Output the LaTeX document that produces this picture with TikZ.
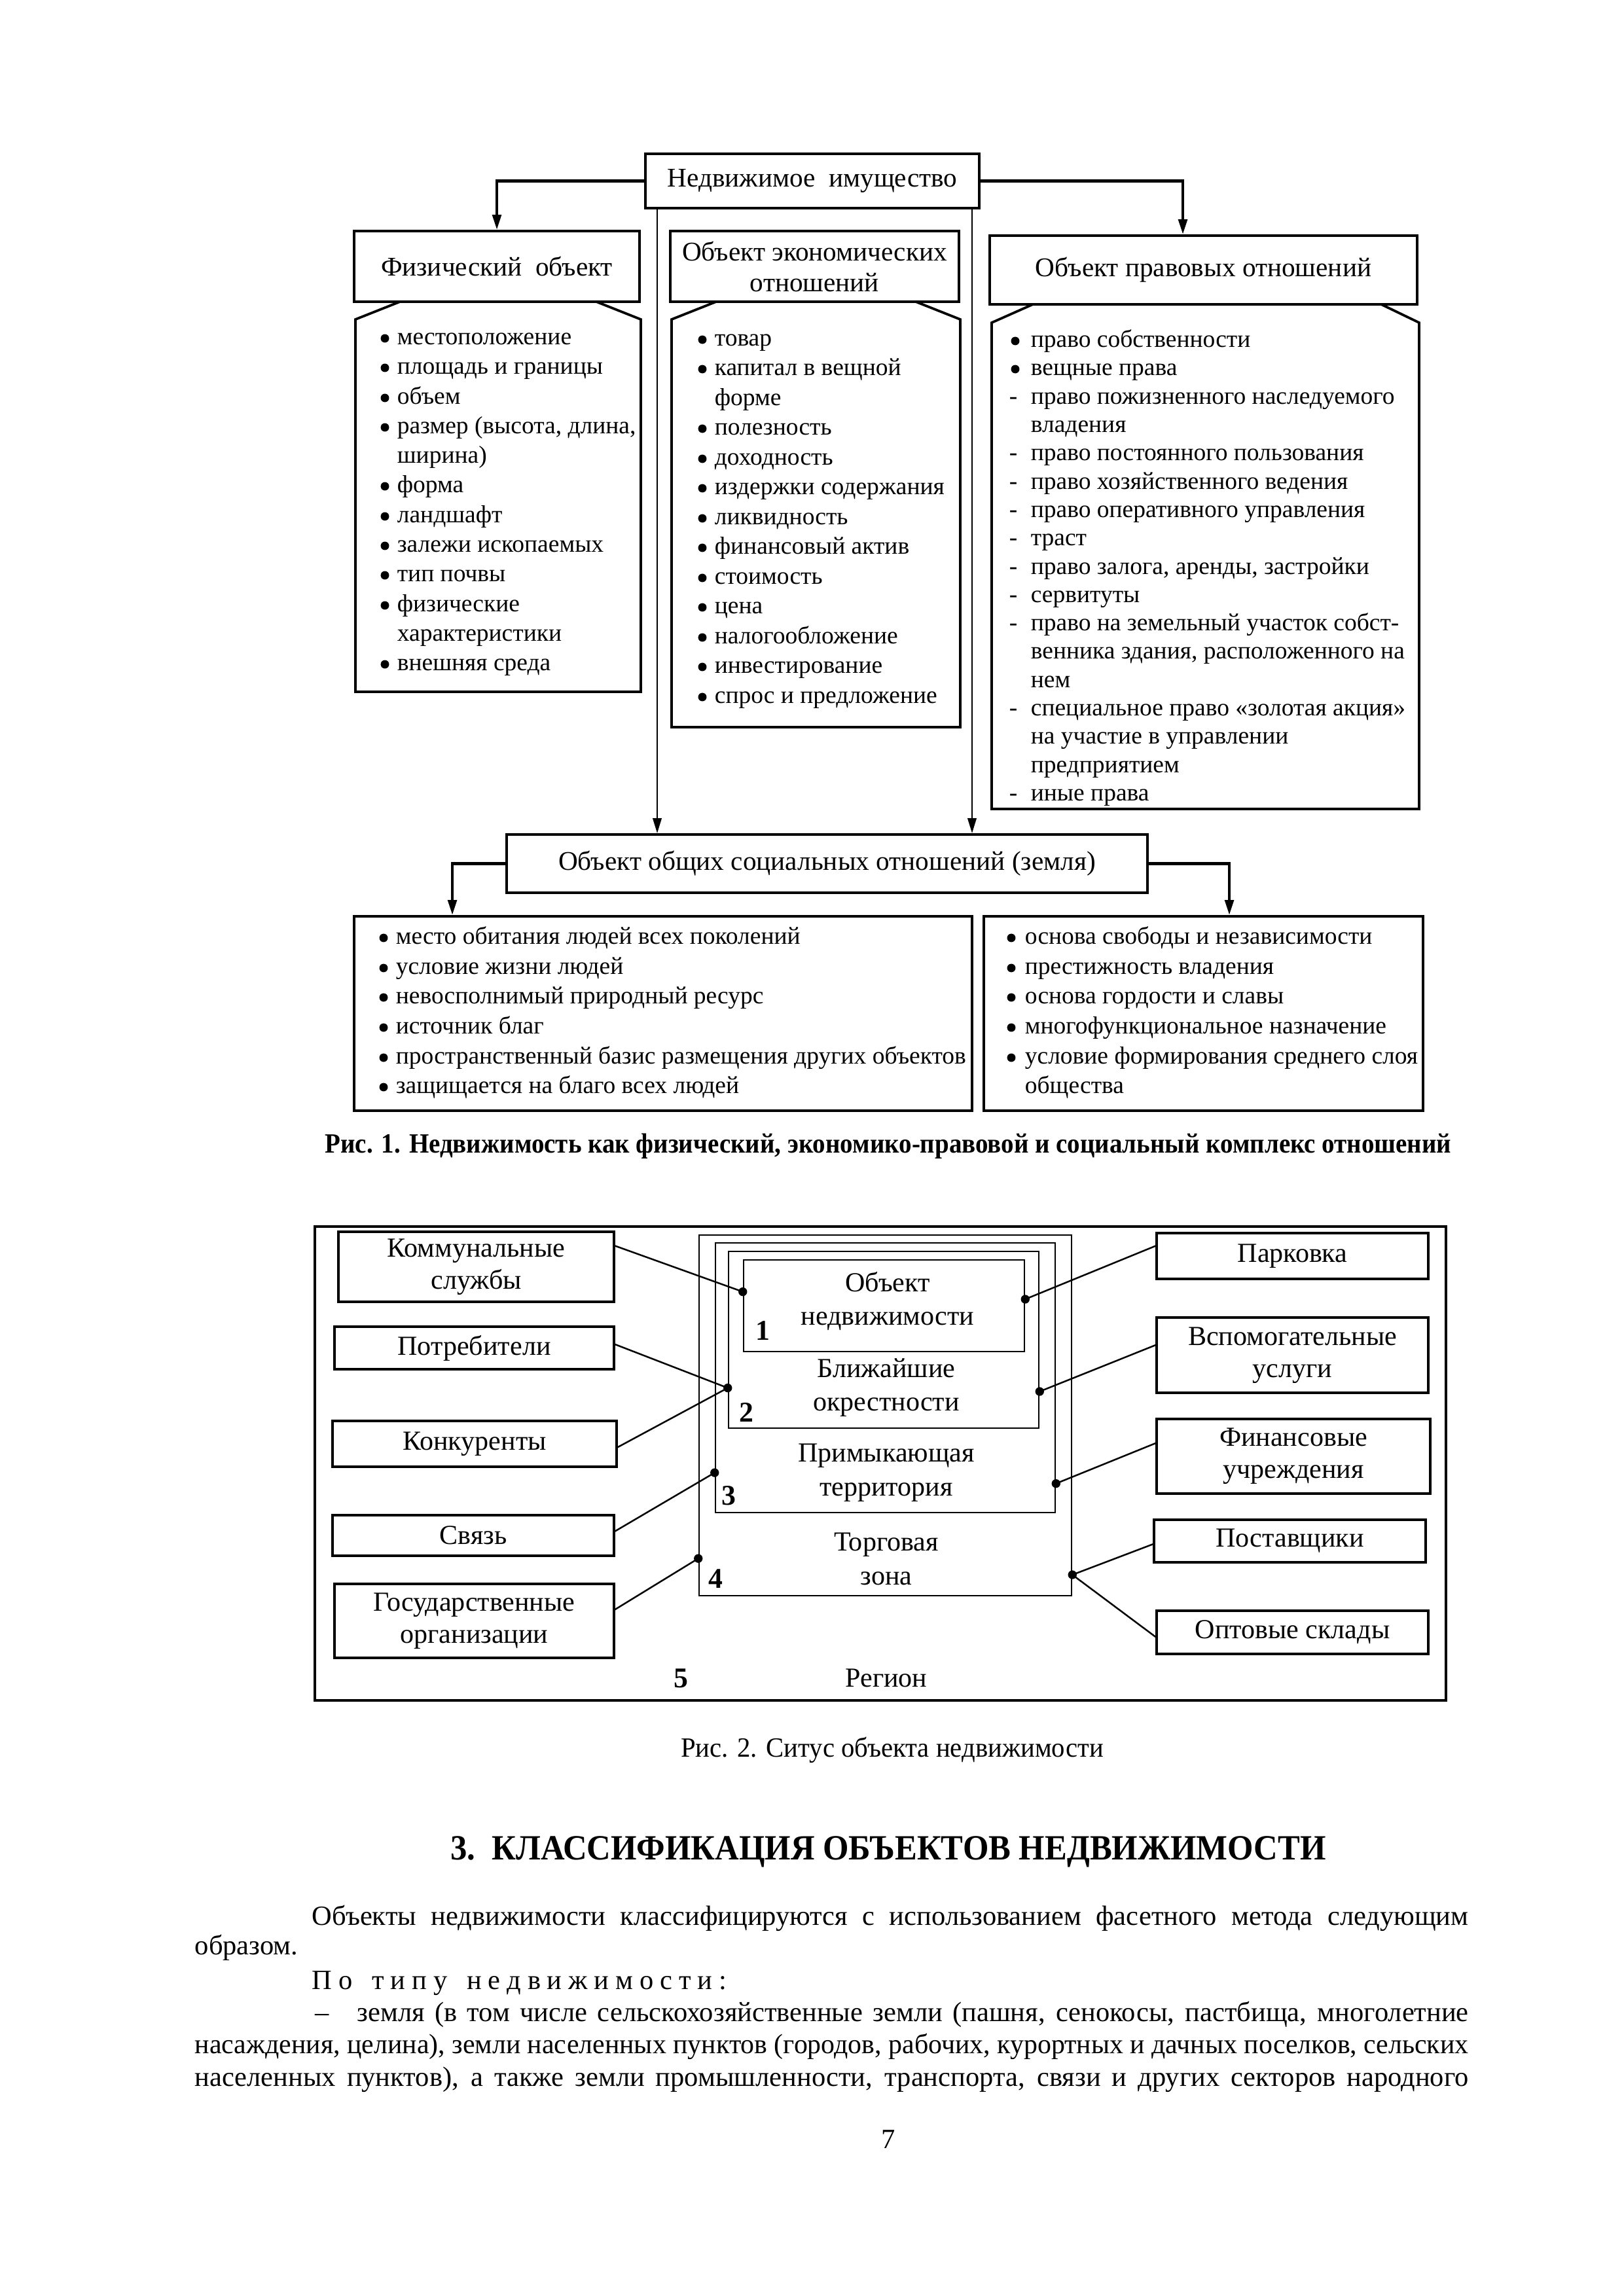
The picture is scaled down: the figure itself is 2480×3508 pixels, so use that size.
\documentclass[tikz,border=0pt]{standalone}
\usepackage{fontspec}
\setmainfont{Liberation Serif}
\usepackage{graphicx}
\usetikzlibrary{arrows.meta,calc}
\newsavebox\lnbox
\newcommand\fitline[2]{\sbox\lnbox{#2}\ifdim\wd\lnbox>#1\relax\resizebox{#1}{\height}{\usebox\lnbox}\else\hbox to #1{#2}\fi}
\newcommand\myhdr{\fontsize{9.9}{11.3}\selectfont}
\newcommand\mylst{\fontsize{9}{10.4}\selectfont}
\newcommand\myftwo{\fontsize{10.1}{11.8}\selectfont}
\newcommand\mybody{\fontsize{10.2}{12}\selectfont}
\newcommand\bitem[5]{\node[bl] (#1b) at (#2,#4) {}; \node[li] (#1) at (#3,#4) {#5};}
\newcommand\ditem[5]{\node[dl] (#1b) at (#2,#4) {-}; \node[li] (#1) at (#3,#4) {#5};}
\newcommand\citem[4]{\node[li] (#1) at (#2,#3) {#4};}
\newcommand\pbox[7]{\node[#6, minimum width={(#4-#2)*0.24pt}, minimum height={(#5-#3)*0.24pt}] (#1) at ({(#2+#4)/2},{(#3+#5)/2}) {#7};}
\begin{document}
\begin{tikzpicture}[x=0.24pt,y=-0.24pt,
  box/.style={draw, line width=0.9pt, inner sep=0pt, align=center, font=\myhdr},
  lbox/.style={draw, line width=0.9pt},
  zb/.style={draw, line width=0.6pt, inner sep=0pt},
  fb/.style={draw, line width=0.8pt, inner sep=0pt, align=center, font=\myftwo},
  zt/.style={inner sep=0pt, align=center, font=\fontsize{10.1}{12.4}\selectfont},
  num/.style={inner sep=0pt, font=\fontsize{10.5}{12}\selectfont\bfseries},
  li/.style={anchor=mid west, inner sep=0pt, font=\mylst},
  bl/.style={circle, fill=black, inner sep=0pt, minimum size=3.1pt},
  dl/.style={anchor=mid, inner sep=0pt, font=\mylst},
  bt/.style={anchor=mid west, inner sep=0pt, font=\mybody},
  hconn/.style={line width=1pt, -{Triangle[length=5.5pt,width=3.2pt]}},
  vconn/.style={line width=0.6pt, -{Triangle[length=5.5pt,width=3.2pt]}},
  ln/.style={line width=0.6pt},
  dot/.style={fill=black}
]
\useasboundingbox (0,0) rectangle (2480,3508);

% ---------- Figure 1 ----------
\pbox{top}{986}{235}{1496}{318}{box}{Недвижимое~~имущество}
\pbox{phys}{541}{353}{977}{461}{box}{Физический~~объект}
\pbox{econ}{1024}{353}{1465}{461}{box}{Объект экономических\\отношений}
\pbox{legal}{1512}{360}{2165}{465}{box}{Объект правовых отношений}
\pbox{soc}{774}{1275}{1753}{1364}{box}{Объект общих социальных отношений (земля)}
\pbox{socl}{541}{1400}{1485}{1697}{box}{}
\pbox{socr}{1503}{1400}{2174}{1697}{box}{}

\draw[lbox] (611,461) -- (543,488) -- (543,1057) -- (979,1057) -- (979,488) -- (911,461);
\draw[lbox] (1094,461) -- (1026,488) -- (1026,1111) -- (1467,1111) -- (1467,488) -- (1399,461);
\draw[lbox] (1578,465) -- (1515,493) -- (1515,1236) -- (2168,1236) -- (2168,493) -- (2110,465);

\coordinate (aR) at (1807,0);
\coordinate (v1) at (1004,0);
\coordinate (v2) at (1485,0);
\coordinate (sL) at (691,0);
\coordinate (sR) at (1878,0);
\draw[hconn] (top.west) -| (phys.north);
\draw[hconn] (top.east) -| (aR |- legal.north);
\draw[vconn] (v1 |- top.south) -- (v1 |- soc.north);
\draw[vconn] (v2 |- top.south) -- (v2 |- soc.north);
\draw[hconn] (soc.west) -| (sL |- socl.north);
\draw[hconn] (soc.east) -| (sR |- socr.north);

% physical list
\bitem{p1}{588}{606}{517}{местоположение}
\bitem{p2}{588}{606}{562}{площадь и границы}
\bitem{p3}{588}{606}{608}{объем}
\bitem{p4}{588}{606}{653}{размер (высота, длина,}
\citem{p5}{606}{698}{ширина)}
\bitem{p6}{588}{606}{743}{форма}
\bitem{p7}{588}{606}{789}{ландшафт}
\bitem{p8}{588}{606}{834}{залежи ископаемых}
\bitem{p9}{588}{606}{879}{тип почвы}
\bitem{p10}{588}{606}{925}{физические}
\citem{p11}{606}{970}{характеристики}
\bitem{p12}{588}{606}{1015}{внешняя среда}

% economic list
\bitem{e1}{1073}{1091}{519}{товар}
\bitem{e2}{1073}{1091}{564}{капитал в вещной}
\citem{e3}{1091}{610}{форме}
\bitem{e4}{1073}{1091}{655}{полезность}
\bitem{e5}{1073}{1091}{701}{доходность}
\bitem{e6}{1073}{1091}{746}{издержки содержания}
\bitem{e7}{1073}{1091}{792}{ликвидность}
\bitem{e8}{1073}{1091}{837}{финансовый актив}
\bitem{e9}{1073}{1091}{883}{стоимость}
\bitem{e10}{1073}{1091}{928}{цена}
\bitem{e11}{1073}{1091}{974}{налогообложение}
\bitem{e12}{1073}{1091}{1019}{инвестирование}
\bitem{e13}{1073}{1091}{1065}{спрос и предложение}

% legal list
\bitem{l1}{1551}{1574}{521}{право собственности}
\bitem{l2}{1551}{1574}{564}{вещные права}
\ditem{l3}{1548}{1574}{608}{право пожизненного наследуемого}
\citem{l4}{1574}{651}{владения}
\ditem{l5}{1548}{1574}{694}{право постоянного пользования}
\ditem{l6}{1548}{1574}{738}{право хозяйственного ведения}
\ditem{l7}{1548}{1574}{781}{право оперативного управления}
\ditem{l8}{1548}{1574}{824}{траст}
\ditem{l9}{1548}{1574}{868}{право залога, аренды, застройки}
\ditem{l10}{1548}{1574}{911}{сервитуты}
\ditem{l11}{1548}{1574}{954}{право на земельный участок собст-}
\citem{l12}{1574}{997}{венника здания, расположенного на}
\citem{l13}{1574}{1041}{нем}
\ditem{l14}{1548}{1574}{1084}{специальное право «золотая акция»}
\citem{l15}{1574}{1127}{на участие в управлении}
\citem{l16}{1574}{1171}{предприятием}
\ditem{l17}{1548}{1574}{1214}{иные права}

% social lists
\bitem{s1}{586}{604}{1433}{место обитания людей всех поколений}
\bitem{s2}{586}{604}{1479}{условие жизни людей}
\bitem{s3}{586}{604}{1524}{невосполнимый природный ресурс}
\bitem{s4}{586}{604}{1570}{источник благ}
\bitem{s5}{586}{604}{1616}{пространственный базис размещения других объектов}
\bitem{s6}{586}{604}{1661}{защищается на благо всех людей}
\bitem{r1}{1545}{1565}{1433}{основа свободы и независимости}
\bitem{r2}{1545}{1565}{1479}{престижность владения}
\bitem{r3}{1545}{1565}{1524}{основа гордости и славы}
\bitem{r4}{1545}{1565}{1570}{многофункциональное назначение}
\bitem{r5}{1545}{1565}{1616}{условие формирования среднего слоя}
\citem{r6}{1565}{1661}{общества}

\node[inner sep=0pt, font=\mybody\bfseries] (cap1) at (1357,1751) {\fitline{413pt}{Рис. 1. Недвижимость как физический, экономико-правовой и социальный комплекс отношений}};

% ---------- Figure 2 ----------
\pbox{reg}{481}{1874}{2209}{2598}{box}{}
\pbox{z4}{1068}{1887}{1637}{2438}{zb}{}
\pbox{z3}{1093}{1899}{1612}{2311}{zb}{}
\pbox{z2}{1113}{1912}{1587}{2182}{zb}{}
\pbox{z1}{1136}{1925}{1565}{2065}{zb}{}

\pbox{komm}{517}{1882}{938}{1989}{fb}{Коммунальные\\службы}
\pbox{potr}{511}{2027}{938}{2092}{fb}{Потребители}
\pbox{konk}{508}{2171}{942}{2241}{fb}{Конкуренты}
\pbox{svz}{508}{2315}{938}{2377}{fb}{Связь}
\pbox{gos}{511}{2420}{938}{2533}{fb}{Государственные\\организации}
\pbox{park}{1767}{1884}{2182}{1954}{fb}{Парковка}
\pbox{vsp}{1767}{2013}{2182}{2128}{fb}{Вспомогательные\\услуги}
\pbox{fin}{1767}{2168}{2185}{2282}{fb}{Финансовые\\учреждения}
\pbox{post}{1763}{2322}{2178}{2387}{fb}{Поставщики}
\pbox{opt}{1767}{2461}{2182}{2527}{fb}{Оптовые склады}

\node[zt] (t1) at (1356,1988) {Объект\\недвижимости};
\node[zt] (t2) at (1354,2120) {Ближайшие\\окрестности};
\node[zt] (t3) at (1354,2250) {Примыкающая\\территория};
\node[zt] (t4) at (1354,2382) {Торговая\\зона};
\node[zt] (t5) at (1354,2564) {Регион};
\node[num] (n1) at (1165,2033) {1};
\node[num] (n2) at (1140,2158) {2};
\node[num] (n3) at (1113,2285) {3};
\node[num] (n4) at (1093,2412) {4};
\node[num] (n5) at (1040,2564) {5};

\coordinate (d1) at ($(z1.north west)!0.35!(z1.south west)$);
\coordinate (d2) at ($(z2.north west)!0.77!(z2.south west)$);
\coordinate (d3) at ($(z3.north west)!0.85!(z3.south west)$);
\coordinate (d4) at ($(z4.north west)!0.895!(z4.south west)$);
\coordinate (d5) at ($(z1.north east)!0.43!(z1.south east)$);
\coordinate (d6) at ($(z2.north east)!0.79!(z2.south east)$);
\coordinate (d7) at ($(z3.north east)!0.89!(z3.south east)$);
\coordinate (d8) at ($(z4.north east)!0.94!(z4.south east)$);

\draw[ln] ($(komm.north east)!0.21!(komm.south east)$) -- (d1);
\draw[ln] ($(potr.north east)!0.42!(potr.south east)$) -- (d2);
\draw[ln] ($(konk.north east)!0.57!(konk.south east)$) -- (d2);
\draw[ln] ($(svz.north east)!0.4!(svz.south east)$) -- (d3);
\draw[ln] ($(gos.north east)!0.35!(gos.south east)$) -- (d4);
\draw[ln] ($(park.north west)!0.29!(park.south west)$) -- (d5);
\draw[ln] ($(vsp.north west)!0.37!(vsp.south west)$) -- (d6);
\draw[ln] ($(fin.north west)!0.33!(fin.south west)$) -- (d7);
\draw[ln] ($(post.north west)!0.57!(post.south west)$) -- (d8);
\draw[ln] ($(opt.north west)!0.6!(opt.south west)$) -- (d8);
\foreach \d in {d1,d2,d3,d4,d5,d6,d7,d8} \fill[dot] (\d) circle[radius=1.6pt];

\node[inner sep=0pt, font=\mybody] (cap2) at (1363,2674) {\fitline{155pt}{Рис. 2. Ситус объекта недвижимости}};

% ---------- Text ----------
\node[inner sep=0pt, font=\fontsize{13}{14}\selectfont\bfseries] (head) at (1357,2829) {\fitline{321pt}{3.~~КЛАССИФИКАЦИЯ ОБЪЕКТОВ НЕДВИЖИМОСТИ}};
\node[bt] (b1) at (476,2932) {\fitline{424pt}{Объекты недвижимости классифицируются с использованием фасетного метода следующим}};
\node[bt] (b2) at (297,2977) {образом.};
\node[bt] (b3) at (476,3030) {\hbox to 152pt{П\hfill о\hfill\hfill\hfill т\hfill и\hfill п\hfill у\hfill\hfill\hfill н\hfill е\hfill д\hfill в\hfill и\hfill ж\hfill и\hfill м\hfill о\hfill с\hfill т\hfill и\hfill :}};
\node[bt] (b4d) at (481,3079) {–};
\node[bt] (b4) at (545,3079) {\fitline{407.5pt}{земля (в том числе сельскохозяйственные земли (пашня, сенокосы, пастбища, многолетние}};
\node[bt] (b5) at (297,3128) {\fitline{467pt}{насаждения, целина), земли населенных пунктов (городов, рабочих, курортных и дачных поселков, сельских}};
\node[bt] (b6) at (297,3178) {\fitline{467pt}{населенных пунктов), а также земли промышленности, транспорта, связи и других секторов народного}};
\node[inner sep=0pt, font=\mybody] (pg) at (1357,3269) {7};
\end{tikzpicture}
\end{document}
